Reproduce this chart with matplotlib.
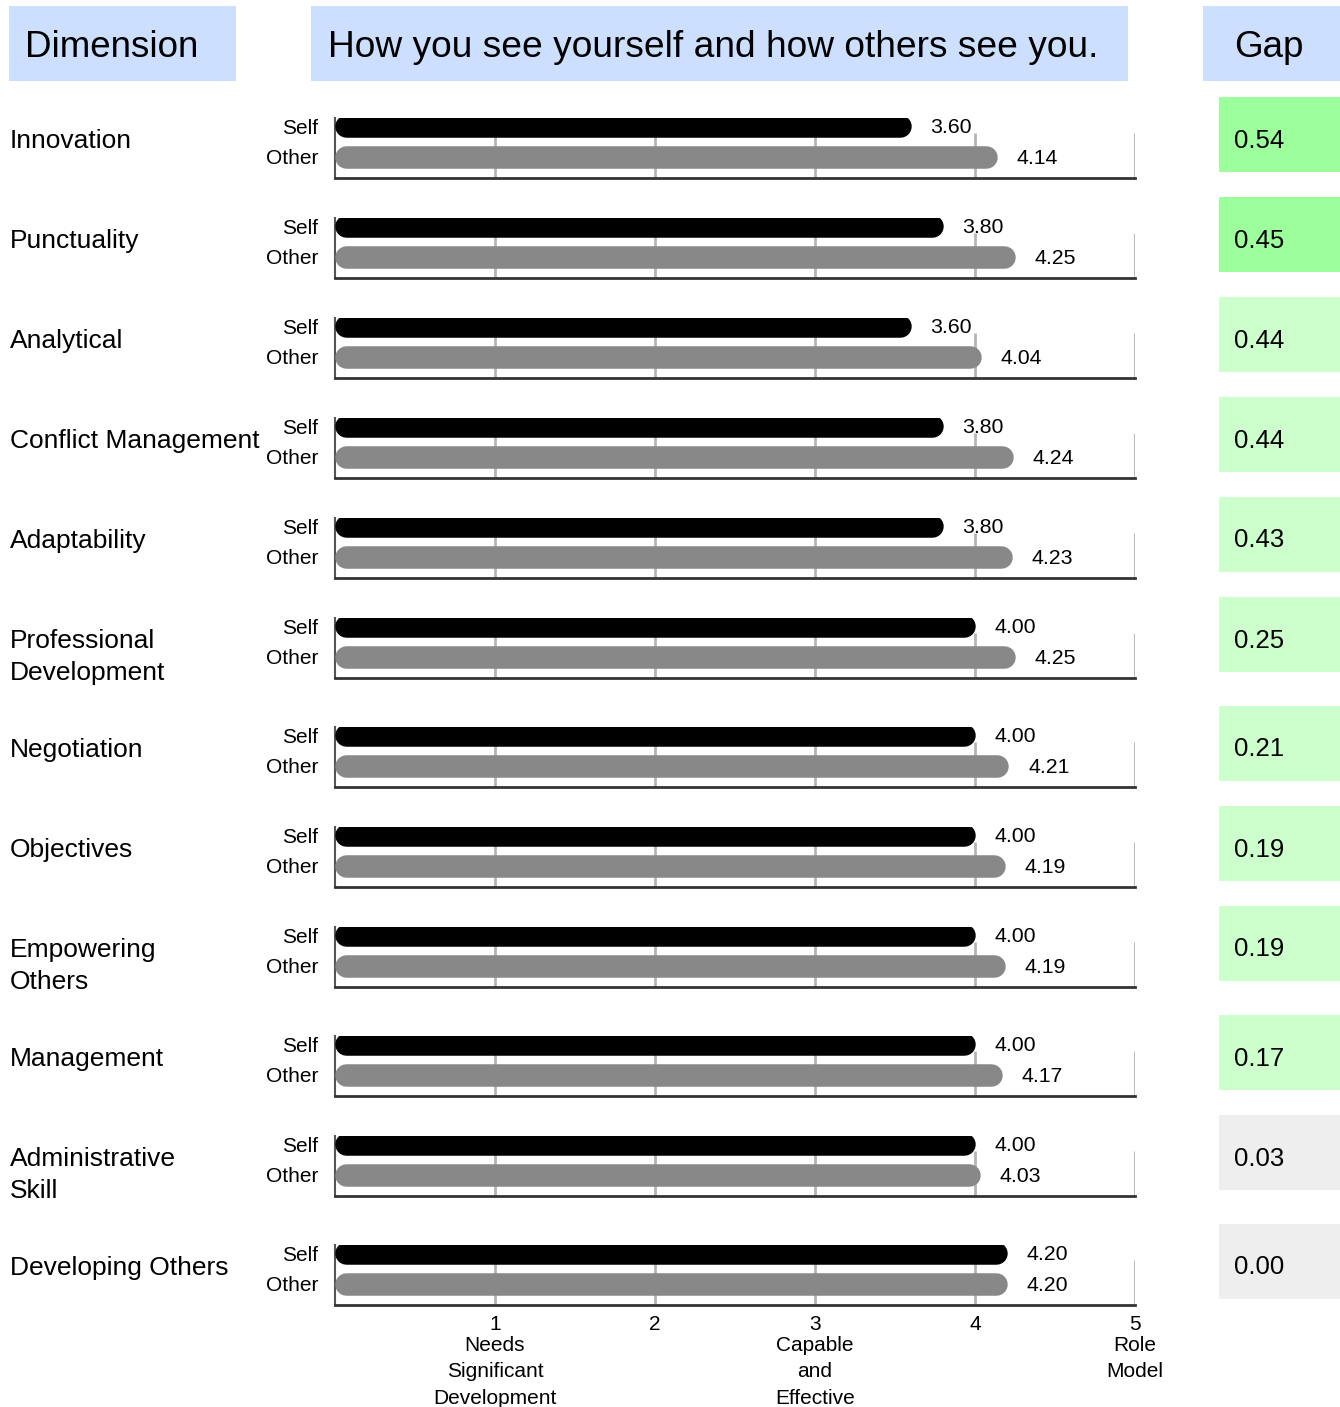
import matplotlib
matplotlib.use("Agg")
import matplotlib.pyplot as plt

plt.rcParams['font.family'] = ['Liberation Sans', 'DejaVu Sans']

dimensions = ["Innovation", "Punctuality", "Analytical", "Conflict Management",
              "Adaptability", "Professional\nDevelopment", "Negotiation",
              "Objectives", "Empowering\nOthers", "Management",
              "Administrative\nSkill", "Developing Others"]
self_scores = [3.60, 3.80, 3.60, 3.80, 3.80, 4.00, 4.00, 4.00, 4.00, 4.00, 4.00, 4.20]
other_scores = [4.14, 4.25, 4.04, 4.24, 4.23, 4.25, 4.21, 4.19, 4.19, 4.17, 4.03, 4.20]
gaps = [0.54, 0.45, 0.44, 0.44, 0.43, 0.25, 0.21, 0.19, 0.19, 0.17, 0.03, 0.00]
scale_ticks = [1, 2, 3, 4, 5]
scale_nums = ["1", "2", "3", "4", "5"]
scale_desc = ["Needs\nSignificant\nDevelopment", "", "Capable\nand\nEffective", "", "Role\nModel"]
headers = ["Dimension", "How you see yourself and how others see you.", "Gap"]

W, H = 1340, 1407
fig = plt.figure(figsize=(W / 100, H / 100), dpi=100)


def box(x0, y0, x1, y1):
    # pixel box (top-left origin) -> figure fraction rect
    return [x0 / W, 1 - y1 / H, (x1 - x0) / W, (y1 - y0) / H]


header_blue = "#cddfff"
for (x0, x1, tx, fs), txt in zip([(9, 236, 25, 26.5), (311, 1128, 328, 26.75),
                                  (1203, 1340, 1234, 26.5)], headers):
    hax = fig.add_axes(box(x0, 6, x1, 81))
    hax.set_facecolor(header_blue)
    hax.set_xticks([])
    hax.set_yticks([])
    for s in hax.spines.values():
        s.set_visible(False)
    fig.text(tx / W, 1 - 47.5 / H, txt, fontsize=fs, va="center", ha="left")

X0, X1 = 335, 1135
bar_px = 22.5
r = (bar_px / 2) / ((X1 - X0) / 5)   # cap radius in data units
self_col, other_col = "black", "#888888"

axis_y = 178
n = len(dimensions)
for i in range(n):
    ax = fig.add_axes(box(X0, axis_y - 60, X1, axis_y))
    ax.set_xlim(0, 5)
    ax.set_ylim(-0.68, 1.26)
    ax.patch.set_alpha(0)
    ax.vlines(scale_ticks, -0.68, 0.77, color="#b4b4b4", lw=2, zorder=1)
    for yy, v, c in [(1, self_scores[i], self_col), (0, other_scores[i], other_col)]:
        ax.plot([r, v - r], [yy, yy], color=c, lw=bar_px * 0.72,
                solid_capstyle="round", zorder=3)
        ax.annotate(f"{v:.2f}", (v, yy), xytext=(14, -1), textcoords="offset points",
                    fontsize=15.3, va="center", ha="left")
    ax.set_yticks([0, 1])
    ax.set_yticklabels(["Other", "Self"], fontsize=15)
    ax.tick_params(axis="y", length=0, pad=12)
    for s in ["top", "right"]:
        ax.spines[s].set_visible(False)
    ax.spines["left"].set_color("#555555")
    ax.spines["left"].set_linewidth(1.5)
    ax.spines["bottom"].set_color("#333333")
    ax.spines["bottom"].set_linewidth(2)
    if i == n - 1:
        ax.set_xticks(scale_ticks)
        ax.set_xticklabels(scale_nums, fontsize=15)
        ax.tick_params(axis="x", length=0, pad=7)
        for t, d in zip(scale_ticks, scale_desc):
            if d:
                ax.annotate(d, (t, 0), xycoords=("data", "axes fraction"),
                            xytext=(0, -22), textcoords="offset points",
                            fontsize=15, ha="center", va="top", linespacing=1.5)
    else:
        ax.set_xticks([])

    # dimension label: first line centred on row
    nlines = dimensions[i].count("\n") + 1
    row_c = axis_y - 37
    fig.text(10 / W, 1 - (row_c + (nlines - 1) * 16) / H, dimensions[i],
             fontsize=19, va="center", ha="left", linespacing=1.4)

    # gap box
    g = gaps[i]
    gcol = "#9cff9c" if g >= 0.45 else ("#ccffcc" if g >= 0.1 else "#eeeeee")
    gax = fig.add_axes(box(1219, axis_y - 81, 1340, axis_y - 6))
    gax.set_facecolor(gcol)
    gax.set_xticks([])
    gax.set_yticks([])
    for s in gax.spines.values():
        s.set_visible(False)
    gax.text(0.12, 0.42, f"{g:.2f}", transform=gax.transAxes, fontsize=18.5,
             va="center", ha="left")

    axis_y += 100 + (9 if nlines > 1 else 0)

fig.savefig("out.png", dpi=100)
